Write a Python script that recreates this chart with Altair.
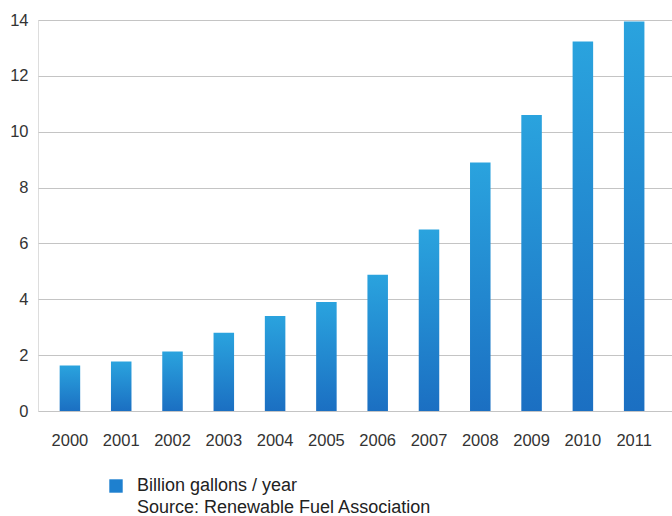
import altair as alt
import pandas as pd

years = ["2000", "2001", "2002", "2003", "2004", "2005",
         "2006", "2007", "2008", "2009", "2010", "2011"]
values = [1.63, 1.77, 2.13, 2.80, 3.40, 3.90, 4.88, 6.50, 8.90, 10.60, 13.23, 13.95]
series_name = "Billion gallons / year"
y_ticks = [0, 2, 4, 6, 8, 10, 12, 14]
source_text = "Source: Renewable Fuel Association"

df = pd.DataFrame({"year": years, "value": values})
legend_df = pd.DataFrame({"year": [years[0]], "value": [values[0] / 2],
                          "series": [series_name]})

FONT = "Liberation Sans"

gradient = alt.Gradient(
    gradient="linear",
    stops=[alt.GradientStop(color="#2aa3de", offset=0),
           alt.GradientStop(color="#1b6fc2", offset=1)],
    x1=0, x2=0, y1=0, y2=1,
)

x_enc = alt.X("year:N", sort=years,
              scale=alt.Scale(paddingInner=0.6, paddingOuter=0.48, align=0.44),
              axis=alt.Axis(title=None, labelAngle=0, ticks=False, domain=False,
                            labelPadding=21, labelFontSize=16.5, labelFont=FONT,
                            labelColor="#333333", grid=False))
y_enc = alt.Y("value:Q",
              scale=alt.Scale(domain=[0, 14], nice=False),
              axis=alt.Axis(title=None, values=y_ticks, ticks=False, domain=False,
                            labelPadding=10, labelFontSize=16.5, labelFont=FONT,
                            labelColor="#333333", gridColor="#c4c4c4",
                            gridWidth=1))

# tiny hidden square (under the first bar) that only serves to build the legend
legend_layer = alt.Chart(legend_df).mark_square(size=4, opacity=1).encode(
    x=x_enc,
    y=y_enc,
    fill=alt.Fill("series:N",
                  scale=alt.Scale(range=["#1e80cf"]),
                  legend=alt.Legend(title=None, orient="none", legendX=69,
                                    legendY=457, symbolType="square",
                                    symbolSize=180, symbolStrokeWidth=0,
                                    symbolOpacity=1,
                                    labelFontSize=18, labelFont=FONT,
                                    labelColor="#222222", labelOffset=12,
                                    labelLimit=0, padding=0)),
)

bars = alt.Chart(df).mark_bar(color=gradient).encode(x=x_enc, y=y_enc)

chart = alt.layer(legend_layer, bars).properties(
    width=634,
    height=391,
    padding={"left": 38, "top": 20, "right": 0, "bottom": 105},
    autosize=alt.AutoSizeParams(type="none"),
    title=alt.TitleParams(source_text, orient="bottom", anchor="start",
                          frame="group", dx=99, dy=2, offset=2, fontSize=18,
                          fontWeight="normal", font=FONT, color="#222222"),
).configure_view(stroke=None).configure(background="white")

chart.save("out.html", embed_options={"renderer": "svg", "actions": False})
